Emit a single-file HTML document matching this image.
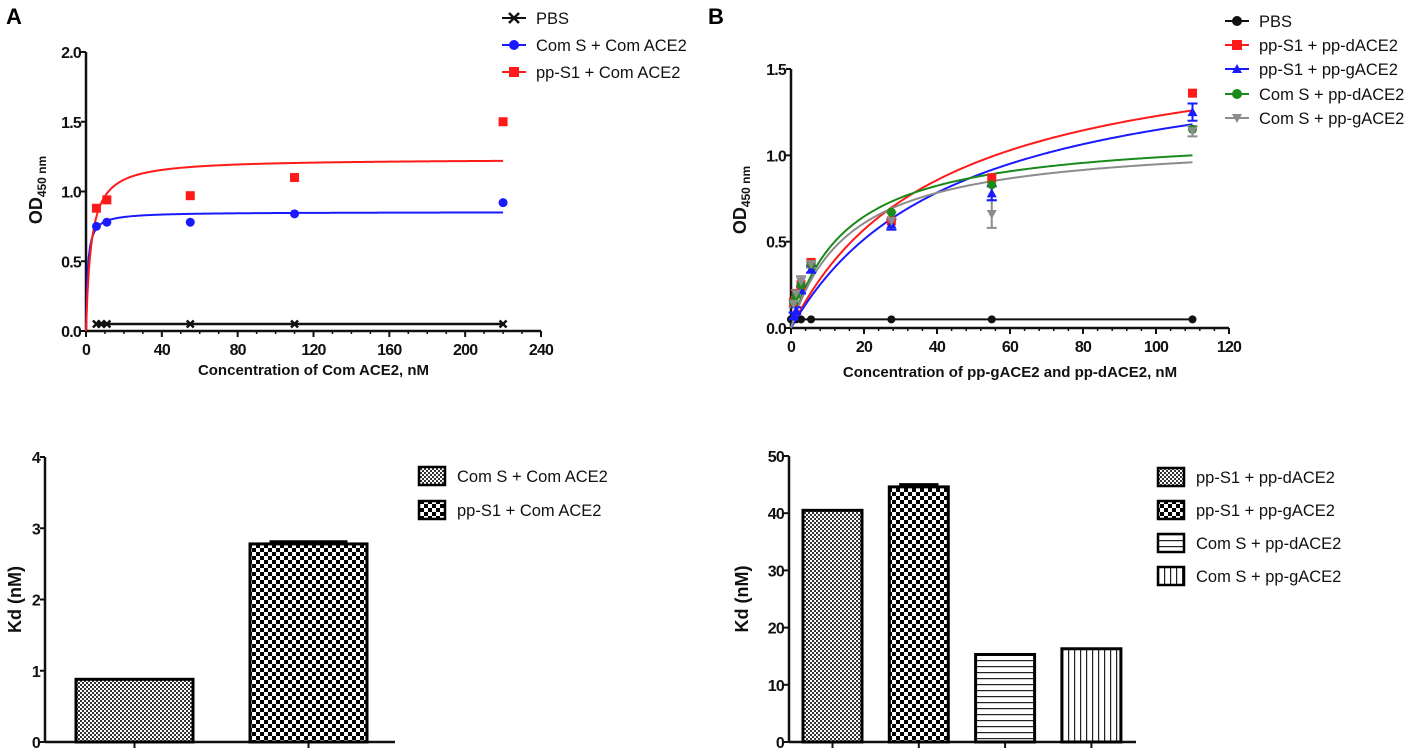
<!DOCTYPE html>
<html><head><meta charset="utf-8"><style>
html,body{margin:0;padding:0;background:#fff;}
svg{display:block;font-family:"Liberation Sans",sans-serif;}
.tk{font-size:16px;font-weight:bold;fill:#111;letter-spacing:-0.8px;}
.lg{font-size:16.5px;fill:#111;}
.ttl{font-size:15px;font-weight:bold;fill:#111;}
.yt{font-size:18px;font-weight:bold;fill:#111;}
</style></head><body>
<svg id="svg" width="1417" height="755" viewBox="0 0 1417 755">
<defs>
<pattern id="pDense" width="4" height="4" patternUnits="userSpaceOnUse"><rect width="4" height="4" fill="#fff"/><rect width="2" height="2" fill="#333"/><rect x="2" y="2" width="2" height="2" fill="#333"/></pattern>
<pattern id="pCheck" width="8" height="8" patternUnits="userSpaceOnUse"><rect width="8" height="8" fill="#fff"/><rect width="4" height="4" fill="#000"/><rect x="4" y="4" width="4" height="4" fill="#000"/></pattern>
<pattern id="pHoriz" width="6" height="6" patternUnits="userSpaceOnUse"><rect width="6" height="6" fill="#fff"/><rect y="0" width="6" height="1.2" fill="#222"/></pattern>
<pattern id="pVert" width="6" height="6" patternUnits="userSpaceOnUse"><rect width="6" height="6" fill="#fff"/><rect x="0" width="1.2" height="6" fill="#222"/></pattern>
</defs>
<text x="6" y="24" font-size="22" font-weight="bold">A</text>
<text x="708" y="24" font-size="22" font-weight="bold">B</text>
<g id="gA"></g>
<g id="gB"></g>
<g id="gC"></g>
<g id="gD"></g>
</svg>
<script>
// Chart A data
const aX = [5.5, 11, 55, 110, 220];
const aPbsX = [5.5, 8, 11, 55, 110, 220];
const aPbsY = [0.05, 0.05, 0.05, 0.05, 0.05, 0.05];
const aBlueY = [0.75, 0.78, 0.78, 0.84, 0.92];
const aRedY = [0.88, 0.94, 0.97, 1.10, 1.50];
const aBlueFit = [0.853, 0.88];   // Bmax, Kd
const aRedFit = [1.235, 2.78];
const aXTicks = [0, 40, 80, 120, 160, 200, 240];
const aYTicks = [0.0, 0.5, 1.0, 1.5, 2.0];
// Chart B data
const bX = [0.7, 1.4, 2.75, 5.5, 27.5, 55, 110];
const bPbsX = [0, 1.4, 2.75, 5.5, 27.5, 55, 110];
const bPbsY = [0.05, 0.05, 0.05, 0.05, 0.05, 0.05, 0.05];
const bRedY = [0.15, 0.20, 0.25, 0.38, 0.62, 0.87, 1.36];
const bBlueY = [0.07, 0.10, 0.22, 0.34, 0.60, 0.78, 1.25];
const bGreenY = [0.15, 0.19, 0.25, 0.37, 0.67, 0.83, 1.15];
const bGrayY = [0.14, 0.20, 0.27, 0.37, 0.62, 0.66, 1.14];
const bGrayErr = [0.02, 0.02, 0.03, 0.02, 0.05, 0.08, 0.03];
const bBlueErr = [0.02, 0.02, 0.02, 0.02, 0.03, 0.04, 0.05];
const bRedFit = [1.724, 40.5];
const bBlueFit = [1.658, 44.6];
const bGreenFit = [1.139, 15.3];
const bGrayFit = [1.102, 16.3];
const bXTicks = [0, 20, 40, 60, 80, 100, 120];
const bYTicks = [0.0, 0.5, 1.0, 1.5];
// Bar data
const cLabels = ["Com S + Com ACE2", "pp-S1 + Com ACE2"];
const cValues = [0.88, 2.78];
const cErr = [0.0, 0.03];
const cYTicks = [0, 1, 2, 3, 4];
const dLabels = ["pp-S1 + pp-dACE2", "pp-S1 + pp-gACE2", "Com S + pp-dACE2", "Com S + pp-gACE2"];
const dValues = [40.5, 44.6, 15.3, 16.3];
const dErr = [0.0, 0.4, 0.0, 0.0];
const dYTicks = [0, 10, 20, 30, 40, 50];

const NS = "http://www.w3.org/2000/svg";
function mk(parent, tag, attrs, name) {
  const e = document.createElementNS(NS, tag);
  for (const k in attrs) e.setAttribute(k, attrs[k]);
  
  
  parent.appendChild(e);
  return e;
}
function txt(parent, x, y, s, cls, anchor, name) {
  const t = mk(parent, 'text', {x: x, y: y, class: cls, 'text-anchor': anchor || 'start'}, name);
  t.textContent = s;
  return t;
}
function axes(g, X, Y, xTicks, yTicks, x0, x1, y0, y1, minorX, yFmt) {
  mk(g, 'line', {x1: x0, y1: y0, x2: x0, y2: y1, stroke: '#111', 'stroke-width': 2.5}, 'y-axis-line');
  mk(g, 'line', {x1: x0, y1: y0, x2: x1, y2: y0, stroke: '#111', 'stroke-width': 2.5}, 'x-axis-line');
  yTicks.forEach(v => {
    mk(g, 'line', {x1: x0 - 5, y1: Y(v), x2: x0, y2: Y(v), stroke: '#111', 'stroke-width': 2}, 'y-tick');
    txt(g, x0 - 5, Y(v) + 6, yFmt(v), 'tk', 'end', 'y-tick-label');
  });
  if (xTicks) {
    xTicks.forEach(v => {
      mk(g, 'line', {x1: X(v), y1: y0, x2: X(v), y2: y0 + 6, stroke: '#111', 'stroke-width': 2}, 'x-tick');
      txt(g, X(v), y0 + 24, String(v), 'tk', 'middle', 'x-tick-label');
    });
    for (let i = 0; i < xTicks.length - 1; i++) {
      const step = (xTicks[i + 1] - xTicks[i]) / minorX;
      for (let j = 1; j < minorX; j++) {
        const v = xTicks[i] + j * step;
        mk(g, 'line', {x1: X(v), y1: y0, x2: X(v), y2: y0 + 3, stroke: '#111', 'stroke-width': 1.5}, 'x-minor-tick');
      }
    }
  }
}
let Yc;
function fitPath(g, X, fit, xmax, color, name) {
  let d = '';
  for (let i = 0; i <= 300; i++) {
    const x = xmax * i / 300;
    const y = fit[0] * x / (fit[1] + x);
    d += (i ? 'L' : 'M') + X(x).toFixed(2) + ',' + Yc(y).toFixed(2);
  }
  mk(g, 'path', {d: d, fill: 'none', stroke: color, 'stroke-width': 2}, name);
}
function marker(g, type, cx, cy, color, r, name) {
  if (type === 'circle') mk(g, 'circle', {cx: cx, cy: cy, r: r, fill: color}, name);
  else if (type === 'square') mk(g, 'rect', {x: cx - r, y: cy - r, width: 2 * r, height: 2 * r, fill: color}, name);
  else if (type === 'tri') mk(g, 'polygon', {points: `${cx},${cy - r} ${cx - r},${cy + r * 0.8} ${cx + r},${cy + r * 0.8}`, fill: color}, name);
  else if (type === 'itri') mk(g, 'polygon', {points: `${cx},${cy + r} ${cx - r},${cy - r * 0.8} ${cx + r},${cy - r * 0.8}`, fill: color}, name);
  else if (type === 'x') {
    mk(g, 'path', {d: `M${cx - r},${cy - r}L${cx + r},${cy + r}M${cx + r},${cy - r}L${cx - r},${cy + r}`, stroke: color, 'stroke-width': 2.5}, name);
  }
}
function legendItem(g, x, y, type, color, label, name) {
  mk(g, 'line', {x1: x - 12, y1: y, x2: x + 12, y2: y, stroke: color, 'stroke-width': 2}, name + '-line');
  marker(g, type, x, y, color, 5, name + '-marker');
  txt(g, x + 22, y + 6, label, 'lg', 'start', name + '-label');
}

// ---------- Chart A ----------
(function () {
  const g = document.getElementById('gA');
  const x0 = 86, x1 = 541, y0 = 331, y1 = 52;
  const X = v => x0 + (v / 240) * (x1 - x0);
  const Y = v => y0 - (v / 2.0) * (y0 - y1);
  Yc = Y;
  axes(g, X, Y, aXTicks, aYTicks, x0, x1, y0, y1, 4, v => v.toFixed(1));
  txt(g, (x0 + x1) / 2, 375, 'Concentration of Com ACE2, nM', 'ttl', 'middle', 'x-axis-title');
  const yt = mk(g, 'text', {transform: 'translate(42,190) rotate(-90)', class: 'yt', 'text-anchor': 'middle'}, 'y-axis-title');
  yt.innerHTML = 'OD<tspan font-size="12" dy="4">450 nm</tspan>';
  mk(g, 'path', {d: `M${X(aPbsX[0])},${Y(aPbsY[0])}L${X(aPbsX[aPbsX.length - 1])},${Y(aPbsY[aPbsY.length - 1])}`, stroke: '#111', 'stroke-width': 2.5}, 'pbs-line');
  aPbsX.forEach((x, i) => marker(g, 'x', X(x), Y(aPbsY[i]), '#111', 3.5, 'pbs-point'));
  fitPath(g, X, aBlueFit, 220, '#1a1aff', 'com-s-fit-curve');
  fitPath(g, X, aRedFit, 220, '#ff1a1a', 'pp-s1-fit-curve');
  aX.forEach((x, i) => marker(g, 'circle', X(x), Y(aBlueY[i]), '#1a1aff', 4.5, 'com-s-point'));
  aX.forEach((x, i) => marker(g, 'square', X(x), Y(aRedY[i]), '#ff1a1a', 4.5, 'pp-s1-point'));
  legendItem(g, 514, 18, 'x', '#111', 'PBS', 'legend-pbs');
  legendItem(g, 514, 45, 'circle', '#1a1aff', 'Com S + Com ACE2', 'legend-com-s');
  legendItem(g, 514, 72, 'square', '#ff1a1a', 'pp-S1 + Com ACE2', 'legend-pp-s1');
})();

// ---------- Chart B ----------
(function () {
  const g = document.getElementById('gB');
  const x0 = 791, x1 = 1229, y0 = 328, y1 = 69;
  const X = v => x0 + (v / 120) * (x1 - x0);
  const Y = v => y0 - (v / 1.5) * (y0 - y1);
  Yc = Y;
  axes(g, X, Y, bXTicks, bYTicks, x0, x1, y0, y1, 5, v => v.toFixed(1));
  txt(g, (x0 + x1) / 2, 377, 'Concentration of pp-gACE2 and pp-dACE2, nM', 'ttl', 'middle', 'x-axis-title');
  const yt = mk(g, 'text', {transform: 'translate(746,200) rotate(-90)', class: 'yt', 'text-anchor': 'middle'}, 'y-axis-title');
  yt.innerHTML = 'OD<tspan font-size="12" dy="4">450 nm</tspan>';
  mk(g, 'path', {d: `M${X(bPbsX[0])},${Y(bPbsY[0])}L${X(bPbsX[bPbsX.length - 1])},${Y(bPbsY[bPbsY.length - 1])}`, stroke: '#111', 'stroke-width': 2}, 'pbs-line');
  bPbsX.forEach((x, i) => marker(g, 'circle', X(x), Y(bPbsY[i]), '#111', 4, 'pbs-point'));
  fitPath(g, X, bRedFit, 110, '#ff1a1a', 'pp-s1-dace2-fit');
  fitPath(g, X, bBlueFit, 110, '#1a1aff', 'pp-s1-gace2-fit');
  fitPath(g, X, bGreenFit, 110, '#1a8a1a', 'com-s-dace2-fit');
  fitPath(g, X, bGrayFit, 110, '#8c8c8c', 'com-s-gace2-fit');
  function errs(ys, es, color, name) {
    bX.forEach((x, i) => {
      const cx = X(x), a = Y(ys[i] - es[i]), b = Y(ys[i] + es[i]);
      mk(g, 'path', {d: `M${cx},${a}L${cx},${b}M${cx - 5},${a}L${cx + 5},${a}M${cx - 5},${b}L${cx + 5},${b}`, stroke: color, 'stroke-width': 2}, name);
    });
  }
  errs(bGrayY, bGrayErr, '#8c8c8c', 'com-s-gace2-error');
  errs(bBlueY, bBlueErr, '#1a1aff', 'pp-s1-gace2-error');
  bX.forEach((x, i) => marker(g, 'square', X(x), Y(bRedY[i]), '#ff1a1a', 4.5, 'pp-s1-dace2-point'));
  bX.forEach((x, i) => marker(g, 'tri', X(x), Y(bBlueY[i]), '#1a1aff', 5, 'pp-s1-gace2-point'));
  bX.forEach((x, i) => marker(g, 'circle', X(x), Y(bGreenY[i]), '#1a8a1a', 4.5, 'com-s-dace2-point'));
  bX.forEach((x, i) => marker(g, 'itri', X(x), Y(bGrayY[i]), '#8c8c8c', 5, 'com-s-gace2-point'));
  legendItem(g, 1237, 21, 'circle', '#111', 'PBS', 'legend-pbs');
  legendItem(g, 1237, 45, 'square', '#ff1a1a', 'pp-S1 + pp-dACE2', 'legend-pp-s1-dace2');
  legendItem(g, 1237, 69, 'tri', '#1a1aff', 'pp-S1 + pp-gACE2', 'legend-pp-s1-gace2');
  legendItem(g, 1237, 94, 'circle', '#1a8a1a', 'Com S + pp-dACE2', 'legend-com-s-dace2');
  legendItem(g, 1237, 118, 'itri', '#8c8c8c', 'Com S + pp-gACE2', 'legend-com-s-gace2');
})();

// ---------- Bar charts ----------
function barChart(g, x0, x1, y0, y1, ymax, ticks, values, errs, labels, fills, barW, firstX, gap, legX, legY0, legStep, title, titleX) {
  const Y = v => y0 - (v / ymax) * (y0 - y1);
  axes(g, null, Y, null, ticks, x0, x1, y0, y1, 1, v => String(v));
  const yt = mk(g, 'text', {transform: `translate(${titleX},${(y0 + y1) / 2}) rotate(-90)`, class: 'yt', 'text-anchor': 'middle'}, 'y-axis-title');
  yt.textContent = title;
  values.forEach((v, i) => {
    const bx = firstX + i * gap;
    const cx = bx + barW / 2;
    mk(g, 'line', {x1: cx, y1: y0, x2: cx, y2: y0 + 6, stroke: '#111', 'stroke-width': 2}, 'x-tick');
    mk(g, 'rect', {x: bx, y: Y(v), width: barW, height: y0 - Y(v), fill: fills[i], stroke: '#000', 'stroke-width': 3}, 'bar-' + (i + 1));
    if (errs[i] > 0) {
      mk(g, 'path', {d: `M${cx},${Y(v)}L${cx},${Y(v + errs[i])}M${cx - barW / 3},${Y(v + errs[i])}L${cx + barW / 3},${Y(v + errs[i])}`, stroke: '#000', 'stroke-width': 3}, 'error-bar');
    }
    const ly = legY0 + i * legStep;
    mk(g, 'rect', {x: legX, y: ly - 9, width: 26, height: 18, fill: fills[i], stroke: '#000', 'stroke-width': 2.5}, 'legend-swatch');
    txt(g, legX + 38, ly + 6, labels[i], 'lg', 'start', 'legend-label');
  });
}
barChart(document.getElementById('gC'), 45, 395, 742, 457, 4, cYTicks, cValues, cErr, cLabels,
  ['url(#pDense)', 'url(#pCheck)'], 117, 76, 174, 419, 476, 34, 'Kd (nM)', 21);
barChart(document.getElementById('gD'), 789, 1136, 742, 456, 50, dYTicks, dValues, dErr, dLabels,
  ['url(#pDense)', 'url(#pCheck)', 'url(#pHoriz)', 'url(#pVert)'], 59, 803, 86.3, 1158, 477, 33, 'Kd (nM)', 748);
</script>
</body></html>
